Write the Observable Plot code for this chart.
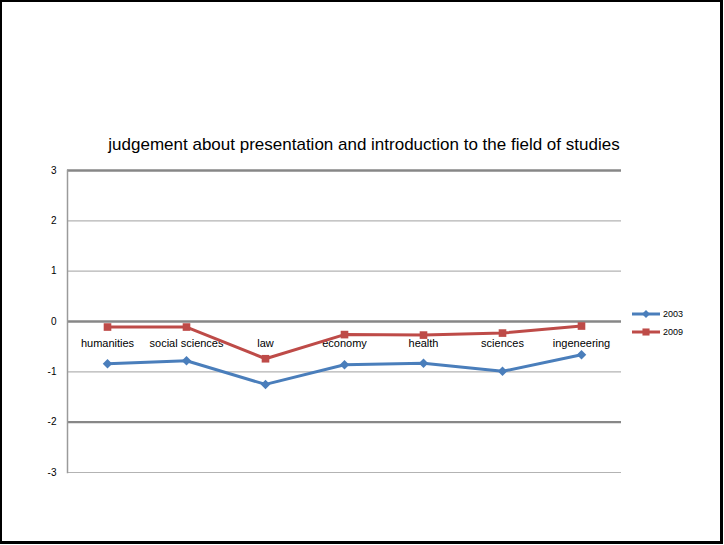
<!DOCTYPE html>
<html>
<head>
<meta charset="utf-8">
<script src="https://cdn.jsdelivr.net/npm/d3@7"></script>
<script src="https://cdn.jsdelivr.net/npm/@observablehq/plot@0.6"></script>
<style>
  html, body { margin: 0; padding: 0; background: #fff; }
  #wrap { position: relative; width: 724px; height: 545px; overflow: hidden; font-family: "Liberation Sans", Arial, sans-serif; }
  #wrap svg { position: absolute; left: 0; top: 0; }
  #border { position: absolute; left: 0; top: 0; width: 723px; height: 544px; box-sizing: border-box;
            border: 2px solid #000; border-right-width: 3px; border-bottom-width: 3px; pointer-events: none; }
  #title { position: absolute; left: 0; top: 135px; width: 728px; text-align: center; font-size: 17px; color: #000; }
  #legend { position: absolute; left: 631px; top: 305px; font-size: 9px; color: #000; }
  #legend .row { display: flex; align-items: center; height: 18px; }
  #legend svg { position: static; margin-right: 2px; }
</style>
</head>
<body>
<div id="wrap">
  <div id="title">judgement about presentation and introduction to the field of studies</div>
  <div id="legend"></div>
  <div id="border"></div>
</div>
<script>
const categories = ["humanities", "social sciences", "law", "economy", "health", "sciences", "ingeneering"];
const values2003 = [-0.84, -0.78, -1.25, -0.86, -0.83, -0.99, -0.66];
const values2009 = [-0.11, -0.11, -0.74, -0.26, -0.27, -0.23, -0.09];
const yTicks = [-3, -2, -1, 0, 1, 2, 3];
const seriesNames = ["2003", "2009"];
const seriesColors = ["#4A7EBB", "#BE4B48"];
const seriesSymbols = ["diamond2", "square"];

const data = categories.flatMap((c, i) => [
  {category: c, series: seriesNames[0], value: values2003[i]},
  {category: c, series: seriesNames[1], value: values2009[i]}
]);

const heavy = v => v === 3 || v === 0 || v === -2;

const chart = Plot.plot({
  width: 724,
  height: 545,
  marginLeft: 67,
  marginRight: 103,
  marginTop: 170,
  marginBottom: 73,
  style: {fontFamily: "'Liberation Sans', Arial, sans-serif", background: "transparent", color: "#000"},
  x: {type: "point", domain: categories, padding: 0.5, axis: null},
  y: {domain: [-3, 3], axis: null, label: null},
  color: {domain: seriesNames, range: seriesColors},
  symbol: {domain: seriesNames, range: seriesSymbols},
  marks: [
    Plot.ruleY(yTicks.filter(v => !heavy(v)), {stroke: "#b3b3b3", strokeWidth: 1.2}),
    Plot.ruleY(yTicks.filter(heavy), {stroke: "#878787", strokeWidth: 2.4}),
    Plot.frame({anchor: "left", stroke: "#9a9a9a", strokeWidth: 1.5}),
    Plot.axisY({ticks: yTicks, tickSize: 0, tickPadding: 11, fontSize: 10, tickFormat: d => String(d), label: null}),
    Plot.text(categories, {x: d => d, y: () => 0, dy: 22, fontSize: 11, fill: "#000"}),
    Plot.line(data, {x: "category", y: "value", z: "series", stroke: "series", strokeWidth: 3}),
    Plot.dot(data, {x: "category", y: "value", fill: "series", symbol: "series", r: 4.3, stroke: "none"})
  ]
});

const wrap = document.getElementById("wrap");
wrap.insertBefore(chart, wrap.firstChild);

// legend
const legend = document.getElementById("legend");
seriesNames.forEach((name, i) => {
  const row = document.createElement("div");
  row.className = "row";
  const sym = d3.symbol(i === 0 ? d3.symbolDiamond2 : d3.symbolSquare, i === 0 ? 40 : 50)();
  row.innerHTML = `<svg width="30" height="12"><line x1="1" y1="6" x2="29" y2="6" stroke="${seriesColors[i]}" stroke-width="3"/><path d="${sym}" transform="translate(15,6)" fill="${seriesColors[i]}"/></svg><span>${name}</span>`;
  legend.appendChild(row);
});
</script>
</body>
</html>
